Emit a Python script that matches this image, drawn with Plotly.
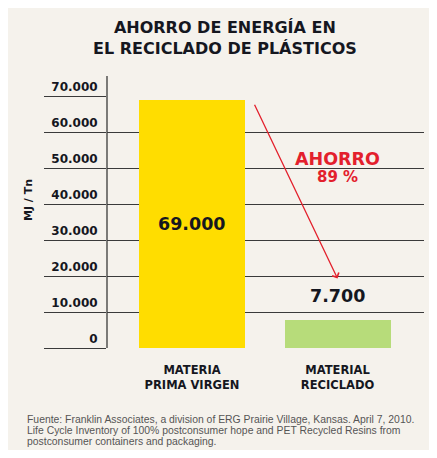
import plotly.graph_objects as go

# data
categories = ["MATERIA<br>PRIMA VIRGEN", "MATERIAL<br>RECICLADO"]
values = [69000, 7700]
value_labels = ["69.000", "7.700"]
bar_colors = ["#ffdd00", "#b7dc7a"]
tick_vals = [0, 10000, 20000, 30000, 40000, 50000, 60000, 70000]
tick_text = ["0", "10.000", "20.000", "30.000", "40.000", "50.000", "60.000", "70.000"]
saving_text = ["AHORRO", "89 %"]
source_lines = [
    "Fuente: Franklin Associates, a division of ERG Prairie Village, Kansas. April 7, 2010.",
    "Life Cycle Inventory of 100% postconsumer hope and PET Recycled Resins from",
    "postconsumer containers and packaging.",
]

# page has an 8px body margin, so the figure is laid out 8px in from the window
OFF = 8
W, H = 437 - OFF, 458 - 2 * OFF
L, R, T, B = 107 - OFF, 13, 96 - OFF, 458 - OFF - 348
pw, ph = W - L - R, H - T - B

BEIGE = "#f5f2ec"
INK = "#15171f"
LINE = "#3a3a3a"
RED = "#e3202c"
FONT = "DejaVu Sans"


def px_x(x):
    # x in reference-window pixels -> paper
    return (x - OFF - L) / pw


def px_y(y):
    # y in reference-window pixels -> paper
    return (T + ph - (y - OFF)) / ph


fig = go.Figure()
fig.add_trace(
    go.Bar(
        x=[0, 1],
        y=values,
        width=0.728,
        marker=dict(color=bar_colors, line_width=0),
        hoverinfo="skip",
    )
)

# bar value labels
fig.add_annotation(x=0, y=values[0] / 2, text=value_labels[0], showarrow=False,
                   font=dict(family=FONT, size=17.5, color=INK, weight="bold"))
fig.add_annotation(x=1, y=values[1], yshift=24, text=value_labels[1], showarrow=False,
                   font=dict(family=FONT, size=17.5, color=INK, weight="bold"))

# saving arrow
fig.add_annotation(x=1.0, y=19300, ax=0.425, ay=68000, axref="x", ayref="y",
                   text="", showarrow=True, arrowhead=4, arrowsize=1.1,
                   arrowwidth=1.3, arrowcolor=RED)
fig.add_annotation(x=1.0, y=52400, text=saving_text[0], showarrow=False,
                   font=dict(family=FONT, size=17.5, color=RED, weight="bold"))
fig.add_annotation(x=1.0, y=47600, text=saving_text[1], showarrow=False,
                   font=dict(family=FONT, size=15, color=RED, weight="bold"))

# title
fig.add_annotation(xref="paper", yref="paper", x=px_x(225), y=px_y(38),
                   text="AHORRO DE ENERGÍA EN<br>EL RECICLADO DE PLÁSTICOS",
                   showarrow=False, xanchor="center", yanchor="middle",
                   font=dict(family=FONT, size=16, color=INK, weight="bold"))

# axis title
fig.add_annotation(xref="paper", yref="paper", x=px_x(28), y=px_y(200),
                   text="MJ / Tn", textangle=-90, showarrow=False,
                   xanchor="center", yanchor="middle",
                   font=dict(family=FONT, size=11, color=INK, weight="bold"))

# source note
for i, line in enumerate(source_lines):
    fig.add_annotation(xref="paper", yref="paper", x=px_x(25), y=px_y(420 + i * 10.7),
                       text=line, showarrow=False, xanchor="left", yanchor="middle",
                       font=dict(family="Liberation Sans", size=10.4, color="#555555"))

# vertical axis line
fig.add_shape(type="line", xref="paper", yref="paper",
              x0=0, x1=0, y0=px_y(76), y1=0, line=dict(color=LINE, width=1.3))

fig.update_layout(
    width=W,
    height=H,
    margin=dict(l=L, r=R, t=T, b=B),
    paper_bgcolor=BEIGE,
    plot_bgcolor="rgba(0,0,0,0)",
    showlegend=False,
    bargap=0,
    xaxis=dict(
        range=[-0.584, 1.594],
        tickvals=[0, 1],
        ticktext=categories,
        ticks="outside",
        ticklen=11,
        tickcolor="rgba(0,0,0,0)",
        showgrid=False,
        zeroline=False,
        showline=False,
        automargin=False,
        tickfont=dict(family=FONT, size=11.5, color=INK, weight="bold"),
        fixedrange=True,
    ),
    yaxis=dict(
        range=[0, 70000],
        tickvals=tick_vals,
        ticktext=tick_text,
        ticks="outside",
        ticklen=62,
        tickwidth=1.3,
        tickcolor=LINE,
        ticklabelposition="outside top",
        ticklabelstandoff=6,
        showgrid=True,
        gridcolor=LINE,
        gridwidth=1.3,
        zeroline=False,
        showline=False,
        automargin=False,
        tickfont=dict(family=FONT, size=12, color=INK, weight="bold"),
        fixedrange=True,
    ),
)

fig.write_html("out.html")
